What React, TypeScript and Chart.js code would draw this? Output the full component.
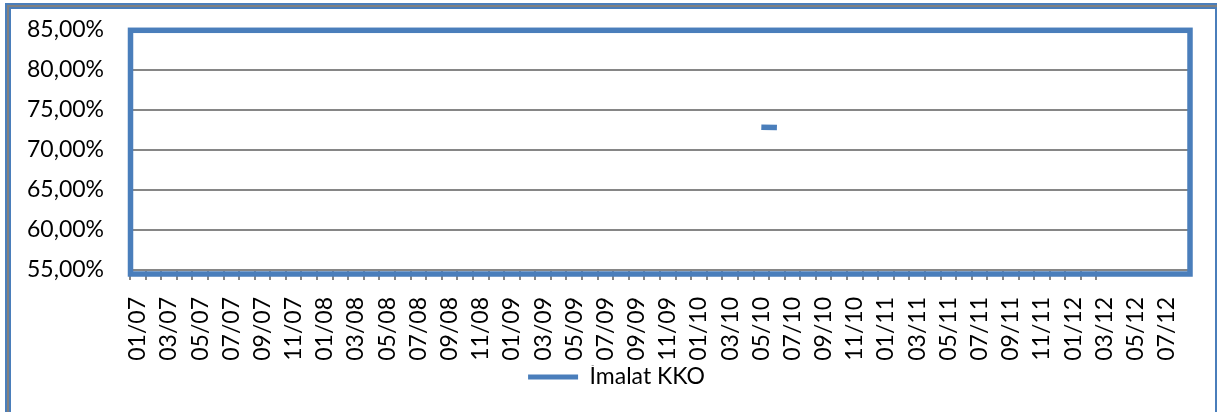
import React, { useEffect, useRef } from "react";
import { Chart, registerables } from "chart.js";

Chart.register(...registerables);

const categories: string[] = [
  "01/07", "02/07", "03/07", "04/07", "05/07", "06/07", "07/07", "08/07", "09/07", "10/07", "11/07", "12/07",
  "01/08", "02/08", "03/08", "04/08", "05/08", "06/08", "07/08", "08/08", "09/08", "10/08", "11/08", "12/08",
  "01/09", "02/09", "03/09", "04/09", "05/09", "06/09", "07/09", "08/09", "09/09", "10/09", "11/09", "12/09",
  "01/10", "02/10", "03/10", "04/10", "05/10", "06/10", "07/10", "08/10", "09/10", "10/10", "11/10", "12/10",
  "01/11", "02/11", "03/11", "04/11", "05/11", "06/11", "07/11", "08/11", "09/11", "10/11", "11/11", "12/11",
  "01/12", "02/12", "03/12", "04/12", "05/12", "06/12", "07/12", "08/12",
];

const seriesLabel = "İmalat KKO";

const imalatKKO: (number | null)[] = [
  null, null, null, null, null, null, null, null, null, null, null, null,
  null, null, null, null, null, null, null, null, null, null, null, null,
  null, null, null, null, null, null, null, null, null, null, null, null,
  null, null, null, null, 72.85, 72.8, null, null, null, null, null, null,
  null, null, null, null, null, null, null, null, null, null, null, null,
  null, null, null, null, null, null, null, null,
];

const yMin = 55;
const yMax = 85;
const yStep = 5;

const BLUE = "#4a7ebb";
const GRID = "#868686";

const plotBorder = {
  id: "plotBorder",
  afterLayout(chart: any) {
    const l = chart.legend;
    if (l) l.left += 43;
  },
  afterDraw(chart: any) {
    const { ctx, chartArea } = chart;
    ctx.save();
    ctx.strokeStyle = BLUE;
    ctx.lineWidth = 5.5;
    ctx.strokeRect(
      chartArea.left + 0.5,
      chartArea.top + 0.3,
      chartArea.right - chartArea.left - 0.5,
      chartArea.bottom + 4 - chartArea.top - 0.3
    );
    ctx.restore();
  },
};

export default function App() {
  const ref = useRef<HTMLCanvasElement | null>(null);

  useEffect(() => {
    if (!ref.current) return;
    Chart.defaults.font.family = "Lato";
    const chart = new Chart(ref.current, {
      type: "line",
      data: {
        labels: categories,
        datasets: [
          {
            label: seriesLabel,
            data: imalatKKO,
            borderColor: BLUE,
            backgroundColor: BLUE,
            borderWidth: 5.5,
            borderCapStyle: "butt",
            pointRadius: 0,
            pointHoverRadius: 0,
            spanGaps: false,
            tension: 0,
          },
        ],
      },
      options: {
        responsive: false,
        animation: false,
        devicePixelRatio: 1,
        layout: { padding: { left: 0, right: 27, top: 30, bottom: 13.5 } },
        plugins: {
          tooltip: { enabled: false },
          legend: {
            position: "bottom",
            labels: {
              color: "#000",
              font: { size: 23, family: "Lato" },
              boxWidth: 50,
              boxHeight: 5,
              padding: 0,
              generateLabels: (c: any) =>
                Chart.defaults.plugins.legend.labels
                  .generateLabels(c)
                  .map((l: any) => ({ ...l, lineWidth: 0, fillStyle: BLUE, strokeStyle: BLUE })),
            },
          },
        },
        scales: {
          x: {
            type: "category",
            offset: true,
            border: { display: false },
            grid: {
              offset: true,
              drawOnChartArea: false,
              drawTicks: true,
              tickLength: 10,
              lineWidth: 2,
              tickColor: (ctx: any) => (ctx.index <= 62 ? GRID : "rgba(0,0,0,0)"),
            },
            ticks: {
              autoSkip: false,
              minRotation: 90,
              maxRotation: 90,
              padding: 17,
              color: "#000",
              font: { size: 23, family: "Lato" },
              callback: (_v: any, i: number) => (i % 2 === 0 ? categories[i] : ""),
            },
            afterFit: (scale: any) => {
              scale.height = 95.5;
              scale.paddingLeft = 0;
              scale.paddingRight = 0;
              scale.paddingTop = 0;
              scale.paddingBottom = 0;
            },
          },
          y: {
            min: yMin,
            max: yMax,
            border: { display: false },
            grid: { color: GRID, lineWidth: 2, drawTicks: false },
            ticks: {
              stepSize: yStep,
              padding: 26,
              color: "#000",
              font: { size: 23, family: "Lato" },
              callback: (v: any) => Number(v).toFixed(2).replace(".", ",") + "%",
            },
            afterFit: (scale: any) => {
              scale.width = 130;
              scale.paddingLeft = 0;
              scale.paddingRight = 0;
              scale.paddingTop = 0;
              scale.paddingBottom = 0;
            },
          },
        },
      },
      plugins: [plotBorder],
    });
    return () => chart.destroy();
  }, []);

  return (
    <div
      style={{
        position: "fixed",
        left: 0,
        top: 0,
        width: 1217,
        height: 412,
        background: "#fff",
        overflow: "hidden",
      }}
    >
      <div
        style={{
          position: "absolute",
          left: 5,
          top: 3,
          width: 1216,
          height: 500,
          boxSizing: "border-box",
          border: `2px solid ${BLUE}`,
        }}
      >
        <div
          style={{
            position: "absolute",
            inset: 0,
            boxSizing: "border-box",
            border: "2px solid #808080",
          }}
        >
          <div
            style={{
              position: "absolute",
              inset: 0,
              boxSizing: "border-box",
              border: `2px solid ${BLUE}`,
            }}
          />
        </div>
      </div>
      <canvas
        ref={ref}
        width={1217}
        height={412}
        style={{ position: "absolute", left: 0, top: 0, width: 1217, height: 412 }}
      />
    </div>
  );
}
